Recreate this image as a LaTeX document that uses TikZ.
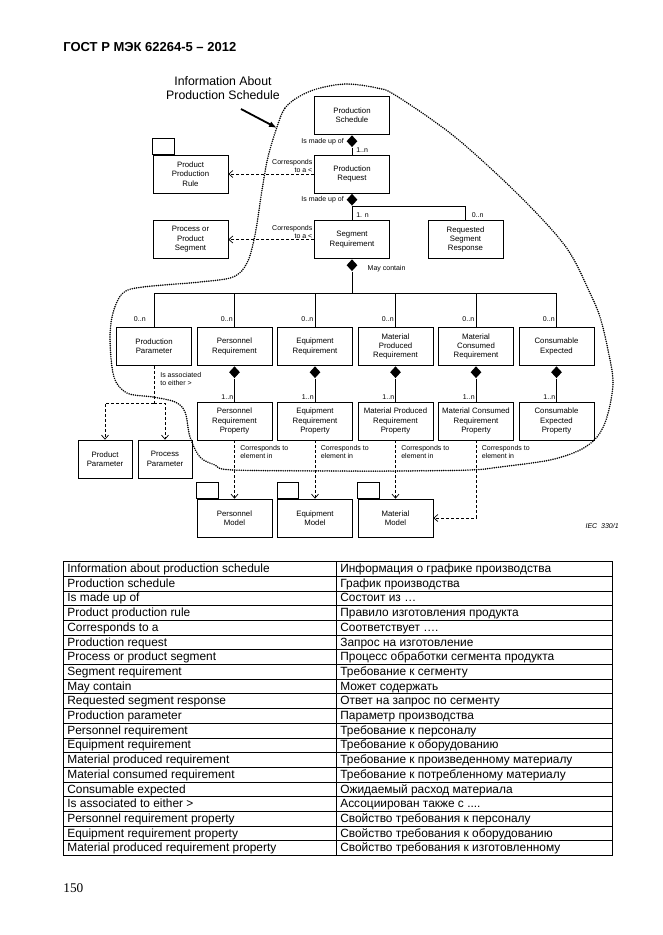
\documentclass[tikz,border=0pt]{standalone}
\usepackage{fontspec}
\setmainfont{Liberation Sans}
\newfontfamily\pagefont{Liberation Serif}
\usepackage{tikz}
\usetikzlibrary{shapes.geometric,arrows.meta}
\newcommand{\boxfont}{\fontsize{7.8}{9.4}\selectfont}
\newcommand{\lblfont}{\fontsize{7}{8}\selectfont}
\newcommand{\tabfont}{\fontsize{11.9}{13}\selectfont}
\newcommand{\fourdots}{.\kern0pt.\kern0pt.\kern0pt.}
\tikzstyle{block} = [draw, fill=white, rectangle, align=center, font=\boxfont,
    inner sep=1pt, minimum height=38pt, minimum width=75pt]
\tikzstyle{input} = [coordinate]
\tikzstyle{agg} = [diamond, fill=black, inner sep=0pt, minimum width=11pt, minimum height=12pt]
\tikzstyle{lbl} = [font=\lblfont, inner sep=0pt, align=left]
\tikzstyle{dep} = [dash pattern=on 3pt off 2pt]
\tikzstyle{depto} = [-{Straight Barb[length=4pt,width=7pt]}]
\tikzstyle{boundary} = [line width=1.7pt, line cap=round, dash pattern=on 0pt off 2.2pt]
\tikzstyle{tabtxt} = [font=\tabfont, inner sep=0pt, anchor=base west]

\begin{document}
\begin{tikzpicture}[x=1pt, y=-1pt, auto, >=latex, line width=0.7pt]
\useasboundingbox (0,0) rectangle (662,935);
% Header
	\node [font=\bfseries\fontsize{13}{15}\selectfont, anchor=west, inner sep=0pt] (title) at (63,46.7) {ГОСТ Р МЭК 62264-5 – 2012};
	\node [font=\fontsize{12.3}{14.3}\selectfont, align=center] (info) at (223,88) {Information About\\Production Schedule};
	\node [input] (tail) at (241,109) {};
	\node [input] (tip) at (277,128) {};
	\draw [-{Latex[length=8pt,width=6pt]}, line width=1.8pt] (tail) -- (tip);
% Top column of blocks
	\node [block] (PS) at (352,115.5) {Production\\Schedule};
	\node [block, below of=PS, node distance=58.5pt] (PR) {Production\\Request};
	\node [block, below of=PR, node distance=65.5pt] (SR) {Segment\\Requirement};
	\node [block, right of=SR, node distance=113.5pt] (RSR) {Requested\\Segment\\Response};
	\node [block, left of=PR, node distance=161.5pt] (PPR) {Product\\Production\\Rule};
	\node [block, left of=SR, node distance=161.5pt] (PPS) {Process or\\Product\\Segment};
	\draw (PPR.north west) rectangle ++(22,-16);
% Diamonds and links of the top column
	\node [agg, anchor=north] (dPS) at (PS.south) {};
	\node [agg, anchor=north] (dPR) at (PR.south) {};
	\node [agg, anchor=north] (dSR) at (SR.south) {};
	\draw (dPS) -- (PR);
	\draw (dPR) -- (SR);
	\node [input] (jn) at (0,206) {};
	\draw (dPR |- jn) -| (RSR);
	\node [lbl, anchor=east] at ([xshift=-2pt]dPS.west) {Is made up of};
	\node [lbl, anchor=east] at ([xshift=-2pt]dPR.west) {Is made up of};
	\node [lbl, anchor=south west] at ([xshift=4pt,yshift=1.5pt]PR.north) {1..n};
	\node [lbl, anchor=south west] at ([xshift=4pt,yshift=2pt]SR.north) {1. n};
	\node [lbl, anchor=south west] at ([xshift=6pt,yshift=2pt]RSR.north) {0..n};
	\node [lbl, anchor=west] at ([xshift=9.5pt,yshift=-3pt]dSR.east) {May contain};
	\draw [dep, depto] (PR) -- (PPR);
	\draw [dep, depto] (SR) -- (PPS);
	\node [lbl, align=right, anchor=south east] at ([xshift=-1.5pt,yshift=1pt]PR.west) {Corresponds\\to a <};
	\node [lbl, align=right, anchor=south east] at ([xshift=-1.5pt,yshift=1pt]SR.west) {Corresponds\\to a <};
% Second row of blocks
	\node [block] (EqR) at (315,346.5) {Equipment\\Requirement};
	\node [block, left of=EqR, node distance=80.5pt] (PeR) {Personnel\\Requirement};
	\node [block, left of=PeR, node distance=80.5pt] (PP) {Production\\Parameter};
	\node [block, right of=EqR, node distance=80.5pt] (MPR) {Material\\Produced\\Requirement};
	\node [block, right of=MPR, node distance=80.5pt] (MCR) {Material\\Consumed\\Requirement};
	\node [block, right of=MCR, node distance=80.5pt] (CE) {Consumable\\Expected};
	\node [input] (bus) at (0,293) {};
	\draw (dSR) -- (dSR |- bus);
	\draw (PP) |- (bus -| CE) -- (CE);
	\foreach \X in {PeR,EqR,MPR,MCR}
		\draw (\X) -- (\X |- bus);
	\node [lbl, anchor=south east] at ([xshift=-8pt,yshift=5.5pt]PP.north) {0..n};
	\foreach \X in {PeR,EqR,MPR,MCR,CE}
		\node [lbl, anchor=south east] at ([xshift=-1.5pt,yshift=5.5pt]\X.north) {0..n};
% Third row of blocks
	\node [block, below of=PeR, node distance=74.5pt] (PeRP) {Personnel\\Requirement\\Property};
	\node [block, below of=EqR, node distance=74.5pt] (EqRP) {Equipment\\Requirement\\Property};
	\node [block, below of=MPR, node distance=74.5pt] (MPRP) {Material Produced\\Requirement\\Property};
	\node [block, below of=MCR, node distance=74.5pt] (MCRP) {Material Consumed\\Requirement\\Property};
	\node [block, below of=CE, node distance=74.5pt] (CEP) {Consumable\\Expected\\Property};
	\foreach \X/\Y in {PeR/PeRP,EqR/EqRP,MPR/MPRP,MCR/MCRP,CE/CEP}{
		\node [agg, anchor=north] (d\X) at (\X.south) {};
		\draw (d\X) -- (\Y);
		\node [lbl, anchor=south east] at ([xshift=-1pt,yshift=1.5pt]\Y.north) {1..n};
	}
% Parameters
	\node [block, minimum width=54pt] (PdP) at (105,459) {Product\\Parameter};
	\node [block, minimum width=54pt, right of=PdP, node distance=60pt] (PcP) {Process\\Parameter};
	\node [input] (split) at (0,403) {};
	\draw [dep] (PP) -- (PP |- split);
	\draw [dep, depto] (PP |- split) -| (PdP);
	\draw [dep, depto] (PP |- split) -| (PcP);
	\node [lbl, anchor=north west] at ([xshift=6pt,yshift=-6.5pt]PP.south) {Is associated\\to either >};
% Models
	\node [block, below of=PeRP, node distance=97pt] (PeM) {Personnel\\Model};
	\node [block, below of=EqRP, node distance=97pt] (EqM) {Equipment\\Model};
	\node [block, below of=MPRP, node distance=97pt] (MatM) {Material\\Model};
	\foreach \X in {PeM,EqM,MatM}
		\draw (\X.north west) rectangle ++(21.5,-16);
	\draw [dep, depto] (PeRP) -- (PeM);
	\draw [dep, depto] (EqRP) -- (EqM);
	\draw [dep, depto] (MPRP) -- (MatM);
	\draw [dep, depto] (MCRP) |- (MatM);
	\foreach \X in {PeRP,EqRP,MPRP,MCRP}
		\node [lbl, anchor=north west] at ([xshift=5.5pt,yshift=-4.5pt]\X.south) {Corresponds to\\element in};
	\node [lbl, font=\itshape\lblfont, anchor=east] (iec) at (619,526) {IEC\ \ 330/1};
% Boundary of the schedule information
	\draw [boundary] plot [smooth cycle, tension=0.55] coordinates {
		(277,127) (285,108) (300,96) (320,88) (347,84) (377,88) (395,95) (450,133)
		(500,177) (543,220) (570,253) (590,293) (600,317) (608,350) (613,383) (607,417)
		(597,437) (580,450) (550,460) (500,467) (470,470) (400,471) (340,471) (233,470)
		(215,465) (200,457) (190,437) (185,412) (175,402) (153,397) (127,393) (114,377)
		(110,340) (113,313) (123,293) (143,287) (200,282) (233,277) (247,263) (255,235)
		(262,190) (268,157)};
% Table of terms
	\foreach \en/\ru [count=\i] in {
		Information about production schedule/Информация о графике производства,
		Production schedule/График производства,
		Is made up of/Состоит из …,
		Product production rule/Правило изготовления продукта,
		Corresponds to a/Соответствует ….,
		Production request/Запрос на изготовление,
		Process or product segment/Процесс обработки сегмента продукта,
		Segment requirement/Требование к сегменту,
		May contain/Может содержать,
		Requested segment response/Ответ на запрос по сегменту,
		Production parameter/Параметр производства,
		Personnel requirement/Требование к персоналу,
		Equipment requirement/Требование к оборудованию,
		Material produced requirement/Требование к произведенному материалу,
		Material consumed requirement/Требование к потребленному материалу,
		Consumable expected/Ожидаемый расход материала,
		Is associated to either >/Ассоциирован также с \fourdots,
		Personnel requirement property/Свойство требования к персоналу,
		Equipment requirement property/Свойство требования к оборудованию,
		Material produced requirement property/Свойство требования к изготовленному}{
		\node [tabtxt] (en\i) at (67,572.5+14.7*\i-14.7) {\en};
		\node [tabtxt] (ru\i) at (340,572.5+14.7*\i-14.7) {\ru};
		\draw (63,561.5+14.7*\i) -- (612,561.5+14.7*\i);
	}
	\draw (63,561.5) rectangle (612,855.5);
	\draw (336,561.5) -- (336,855.5);
	\node [font=\pagefont\fontsize{13.3}{15}\selectfont, anchor=west, inner sep=0pt] (page) at (63,888) {150};
\end{tikzpicture}
\end{document}
